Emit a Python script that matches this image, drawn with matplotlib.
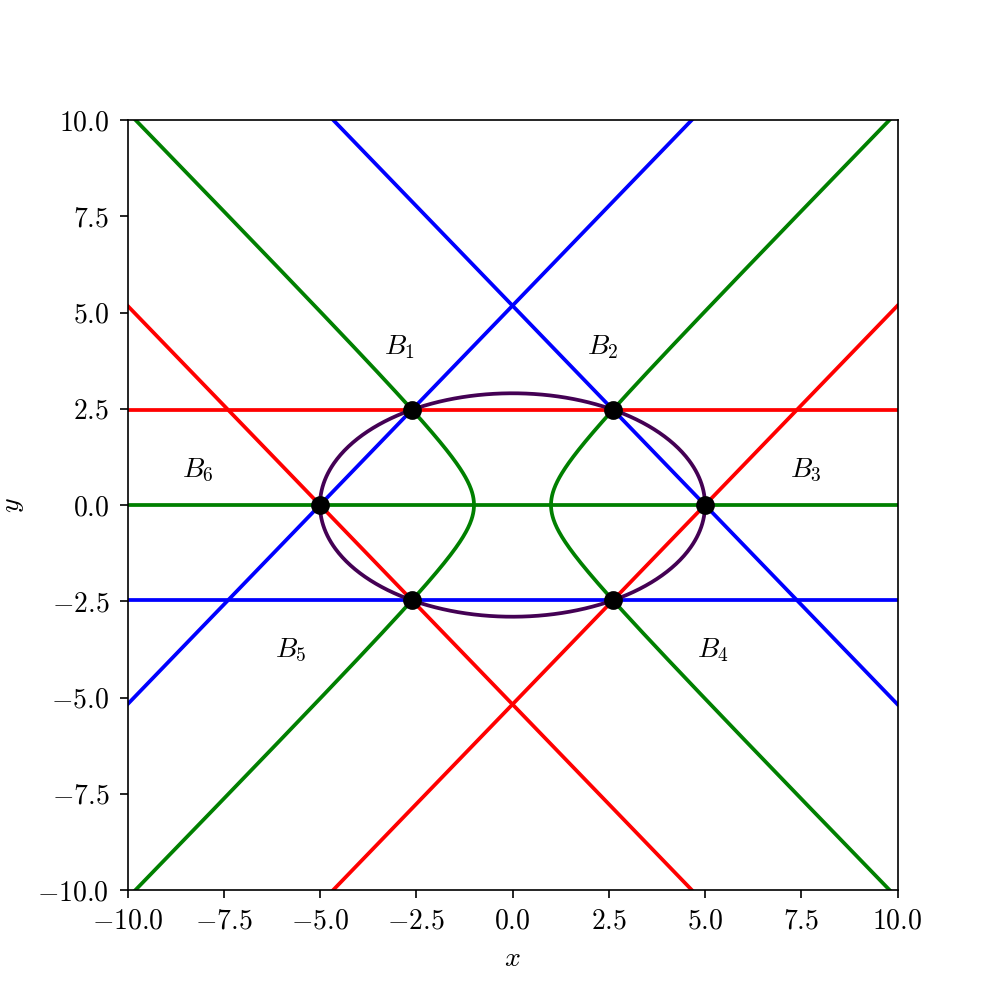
import numpy as np
import matplotlib
matplotlib.use("Agg")
import matplotlib.pyplot as plt

plt.rcParams['font.family'] = 'serif'
plt.rcParams['font.serif'] = ['cmr10', 'DejaVu Serif']
plt.rcParams['mathtext.fontset'] = 'cm'
plt.rcParams['axes.formatter.use_mathtext'] = True
plt.rcParams['font.size'] = 13.3
plt.rcParams['xtick.major.size'] = 4.0
plt.rcParams['ytick.major.size'] = 4.0
plt.rcParams['xtick.major.pad'] = 4.8
plt.rcParams['ytick.major.pad'] = 4.8
plt.rcParams['axes.labelpad'] = 5.5

# Data: the six intersection points
pt_x = [-5.0, -2.61, 2.61, 5.0, 2.61, -2.61]
pt_y = [0.0, 2.475, 2.475, 0.0, -2.475, -2.475]

# Region labels (left/baseline anchor)
label_text = ['$B_1$', '$B_2$', '$B_3$', '$B_4$', '$B_5$', '$B_6$']
label_x = [-3.34, 1.93, 7.21, 4.79, -6.17, -8.58]
label_y = [3.92, 3.92, 0.72, -3.95, -3.95, 0.72]

# Hyperbola x^2 - k y^2 = c through the four off-axis points, vertex at x = 1
hyp_c = 1.0
hyp_k = (pt_x[2] ** 2 - hyp_c) / pt_y[2] ** 2

# Ellipse x^2/a^2 + y^2/b^2 = 1 through all six points
ell_a = pt_x[3]
ell_b = np.sqrt(pt_y[2] ** 2 / (1 - pt_x[2] ** 2 / ell_a ** 2))

fig = plt.figure(figsize=(1000 / 150, 1000 / 150), dpi=150)
ax = fig.add_subplot(111)
lw = 1.8

P = list(zip(pt_x, pt_y))
# red cubic: two diagonals + horizontal
ax.axline(P[0], P[5], color='red', lw=lw)
ax.axline(P[3], P[4], color='red', lw=lw)
ax.axhline(pt_y[1], color='red', lw=lw)
# blue cubic
ax.axline(P[0], P[1], color='blue', lw=lw)
ax.axline(P[3], P[2], color='blue', lw=lw)
ax.axhline(pt_y[4], color='blue', lw=lw)
# green cubic: horizontal line + hyperbola
ax.axhline(0.0, color='green', lw=lw)
t = np.linspace(-10.5, 10.5, 800)
hx = np.sqrt(hyp_c + hyp_k * t ** 2)
ax.plot(hx, t, color='green', lw=lw)
ax.plot(-hx, t, color='green', lw=lw)
# ellipse
th = np.linspace(0, 2 * np.pi, 600)
ax.plot(ell_a * np.cos(th), ell_b * np.sin(th), color='#440154', lw=lw)

ax.plot(pt_x, pt_y, 'o', color='black', ms=8, zorder=5)

for s, x, y in zip(label_text, label_x, label_y):
    ax.text(x, y, s, ha='left', va='baseline', fontsize=13.3)

ax.set_xlim(-10, 10)
ax.set_ylim(-10, 10)
ax.set_aspect('equal')
ax.set_xticks(np.arange(-10, 10.1, 2.5))
ax.set_yticks(np.arange(-10, 10.1, 2.5))
ax.set_xlabel('$x$')
ax.set_ylabel('$y$')

fig.savefig('out.png', dpi=150)
